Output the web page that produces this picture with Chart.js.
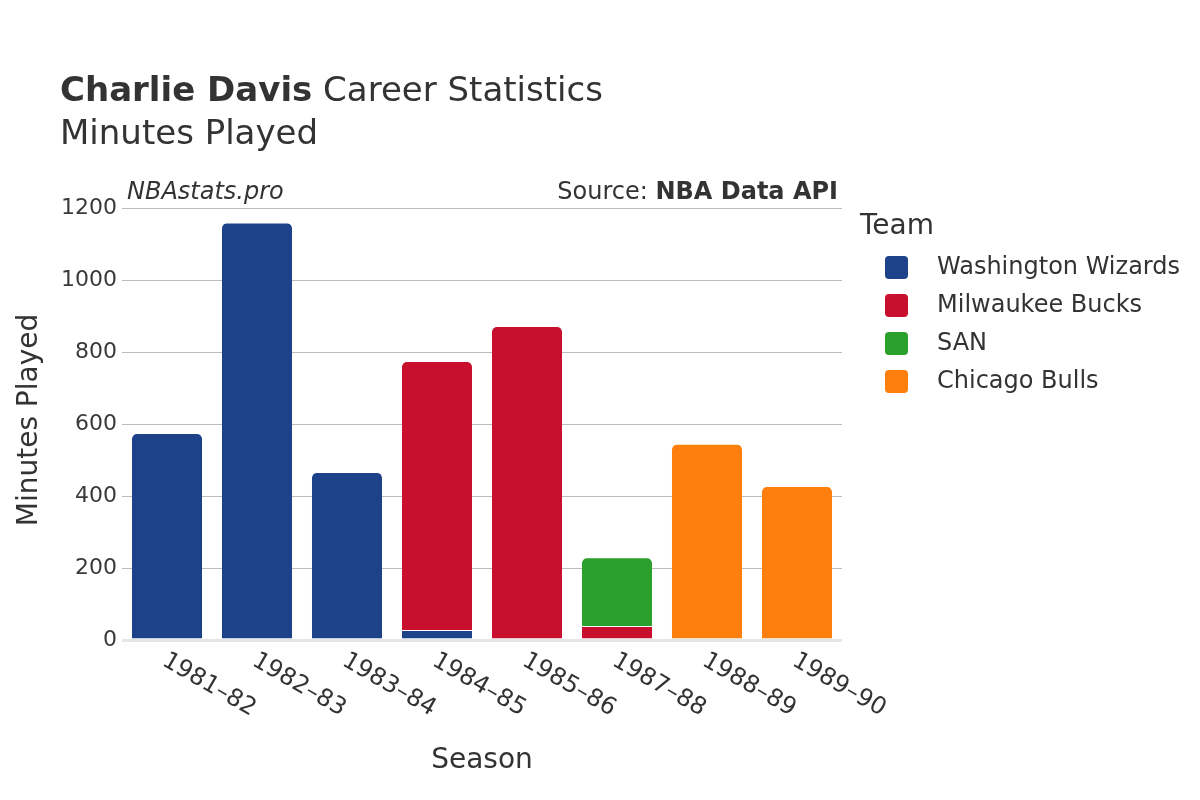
<!DOCTYPE html>
<html>
<head>
<meta charset="utf-8">
<script src="https://cdn.jsdelivr.net/npm/chart.js@4"></script>
<style>
  html, body { margin: 0; padding: 0; background: #fff; }
  #wrap { width: 1200px; height: 800px; }
</style>
</head>
<body>
<div id="wrap"><canvas id="minutesChart" width="1200" height="800"></canvas></div>
<script>
// Chart data
const seasons = ['1981–82', '1982–83', '1983–84', '1984–85', '1985–86', '1987–88', '1988–89', '1989–90'];
const teams = ['Washington Wizards', 'Milwaukee Bucks', 'SAN', 'Chicago Bulls'];
const teamColors = ['#1d428a', '#c8102e', '#2ca02c', '#ff7f0e'];
const washingtonMinutes = [575, 1160, 467, 28, null, null, null, null];
const milwaukeeMinutes = [null, null, null, 747, 872, 39, null, null];
const sanMinutes = [null, null, null, null, null, 191, null, null];
const chicagoMinutes = [null, null, null, null, null, null, 545, 428];
const yTicks = [0, 200, 400, 600, 800, 1000, 1200];

const seriesValues = [washingtonMinutes, milwaukeeMinutes, sanMinutes, chicagoMinutes];
const FONT = '"DejaVu Sans", sans-serif';
const TEXT = '#333';

// Top segment of each stacked bar gets rounded corners
function topRadius(ctx) {
    const i = ctx.dataIndex;
    for (let d = seriesValues.length - 1; d >= 0; d--) {
        if (seriesValues[d][i]) {
            return d === ctx.datasetIndex ? { topLeft: 6, topRight: 6, bottomLeft: 0, bottomRight: 0 } : 0;
        }
    }
    return 0;
}

const datasets = teams.map((team, k) => ({
    label: team,
    data: seriesValues[k],
    backgroundColor: teamColors[k],
    borderColor: 'rgba(255,255,255,0.6)',
    borderWidth: { top: 1, left: 0, right: 0, bottom: 0 },
    borderSkipped: false,
    borderRadius: topRadius,
    categoryPercentage: 1,
    barPercentage: 0.78
}));

// Titles, legend, rotated tick labels
const decorations = {
    id: 'decorations',
    afterDraw(chart) {
        const ctx = chart.ctx;
        const area = chart.chartArea;
        ctx.save();
        ctx.fillStyle = TEXT;
        ctx.textBaseline = 'alphabetic';

        // Title
        ctx.textAlign = 'left';
        ctx.font = 'bold 34px ' + FONT;
        ctx.fillText('Charlie Davis', 60, 101);
        const w = ctx.measureText('Charlie Davis').width;
        ctx.font = '34px ' + FONT;
        ctx.fillText(' Career Statistics', 60 + w, 101);
        ctx.fillText('Minutes Played', 60, 144);

        // Watermark and source
        ctx.font = 'italic 24px ' + FONT;
        ctx.fillText('NBAstats.pro', 127, 199);
        ctx.textAlign = 'right';
        ctx.font = 'bold 24px ' + FONT;
        const bw = ctx.measureText('NBA Data API').width;
        ctx.fillText('NBA Data API', 838, 199);
        ctx.font = '24px ' + FONT;
        ctx.fillText('Source: ', 838 - bw, 199);

        // X tick labels, rotated
        const xScale = chart.scales.x;
        ctx.font = '24px ' + FONT;
        ctx.textAlign = 'left';
        ctx.textBaseline = 'middle';
        seasons.forEach((s, i) => {
            const x = xScale.getPixelForTick(i);
            ctx.save();
            ctx.translate(x - 3, area.bottom + 19);
            ctx.rotate(Math.PI / 6);
            ctx.fillText(s, 0, 0);
            ctx.restore();
        });

        // Axis titles
        ctx.font = '28px ' + FONT;
        ctx.textAlign = 'center';
        ctx.fillText('Season', (area.left + area.right) / 2, 761);
        ctx.save();
        ctx.translate(30, (area.top + area.bottom) / 2 - 4);
        ctx.rotate(-Math.PI / 2);
        ctx.fillText('Minutes Played', 0, 0);
        ctx.restore();

        // Legend
        ctx.textAlign = 'left';
        ctx.font = '28px ' + FONT;
        ctx.fillText('Team', 860, 227);
        ctx.font = '24px ' + FONT;
        teams.forEach((t, k) => {
            const y = 267 + k * 38;
            ctx.fillStyle = teamColors[k];
            ctx.beginPath();
            ctx.roundRect(885, y - 11, 23, 23, 4);
            ctx.fill();
            ctx.fillStyle = TEXT;
            ctx.fillText(t, 937, y + 1);
        });
        ctx.restore();
    }
};

const chart = new Chart(document.getElementById('minutesChart').getContext('2d'), {
    type: 'bar',
    data: { labels: seasons, datasets: datasets },
    options: {
        responsive: false,
        animation: false,
        layout: { padding: { left: 0, right: 358, top: 208, bottom: 0 } },
        plugins: { legend: { display: false }, tooltip: { enabled: false } },
        scales: {
            x: {
                stacked: true,
                grid: { display: false },
                border: { display: false },
                ticks: { display: false },
                afterFit(scale) { scale.height = 160; }
            },
            y: {
                stacked: true,
                min: 0,
                max: 1200,
                afterBuildTicks(scale) { scale.ticks = yTicks.map(v => ({ value: v })); },
                ticks: {
                    color: '#3a3a3a',
                    font: { family: FONT, size: 22 },
                    padding: 5,
                    callback: v => String(v)
                },
                grid: {
                    color: c => c.tick.value === 0 ? '#e6e6e6' : '#bdbdbd',
                    lineWidth: c => c.tick.value === 0 ? 3 : 1,
                    drawTicks: false
                },
                border: { display: false },
                afterFit(scale) { scale.width = 122; }
            }
        }
    },
    plugins: [decorations]
});
</script>
</body>
</html>
